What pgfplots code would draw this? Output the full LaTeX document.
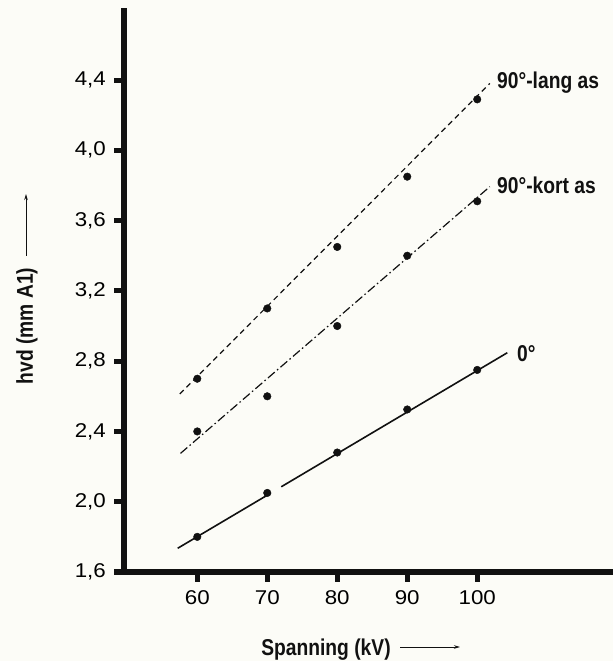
\documentclass[border=0pt]{standalone}
\usepackage{fontspec}
\setmainfont{Liberation Sans}
\newfontfamily\tickfont[FakeStretch=1.12]{Liberation Sans}
\newfontfamily\condfont[FakeStretch=0.84]{Liberation Sans}
\usepackage{pgfplots}
\pgfplotsset{compat=1.18}
\usetikzlibrary{arrows.meta}
\definecolor{paper}{HTML}{FCFCF7}
\definecolor{ink}{HTML}{111111}

\begin{document}
\begin{tikzpicture}
\fill[paper] (-124bp,-89bp) rectangle (489bp,572bp);
\begin{axis}[
    at={(0,0)}, anchor=south west,
    scale only axis,
    width=489bp, height=564bp,
    xmin=49.53, xmax=119.4,
    ymin=1.6, ymax=4.81,
    axis x line*=bottom, axis y line*=left,
    axis line style={-, line width=1bp, draw=ink},
    xtick={60,70,80,90,100},
    ytick={1.6,2.0,2.4,2.8,3.2,3.6,4.0,4.4},
    tick align=outside, major tick length=8bp,
    /pgf/number format/assume math mode=true,
    x tick label style={font=\tickfont\fontsize{20}{20}\selectfont, inner sep=0pt, yshift=-10bp},
    y tick label style={font=\tickfont\fontsize{20}{20}\selectfont, inner sep=0pt, xshift=-10bp},
    yticklabel style={/pgf/number format/.cd, fixed, fixed zerofill, precision=1, use comma},
    clip=false,
]
% anchor points for the heavy frame and tick stubs
\coordinate (tl) at (rel axis cs:0,1);
\coordinate (o)  at (rel axis cs:0,0);
\coordinate (br) at (rel axis cs:1,0);
\coordinate (xt60) at (axis cs:60,1.6);
\coordinate (xt70) at (axis cs:70,1.6);
\coordinate (xt80) at (axis cs:80,1.6);
\coordinate (xt90) at (axis cs:90,1.6);
\coordinate (xt100) at (axis cs:100,1.6);
\coordinate (yt16) at (axis cs:49.53,1.6);
\coordinate (yt20) at (axis cs:49.53,2.0);
\coordinate (yt24) at (axis cs:49.53,2.4);
\coordinate (yt28) at (axis cs:49.53,2.8);
\coordinate (yt32) at (axis cs:49.53,3.2);
\coordinate (yt36) at (axis cs:49.53,3.6);
\coordinate (yt40) at (axis cs:49.53,4.0);
\coordinate (yt44) at (axis cs:49.53,4.4);
% fitted lines
\addplot[ink, line width=1.2bp, dash pattern=on 5.5bp off 4bp] coordinates {(57.5,2.613) (101.8,4.381)};
\addplot[ink, line width=1.2bp, dash pattern=on 9bp off 3bp on 1.5bp off 3bp] coordinates {(57.6,2.275) (101.8,3.793)};
\addplot[ink, line width=1.6bp] coordinates {(57.2,1.735) (70.5,2.049)};
\addplot[ink, line width=1.6bp] coordinates {(72.0,2.085) (104.3,2.848)};
% measured points
\addplot[only marks, mark=*, mark size=3.8bp, ink] coordinates {(60,2.70) (70,3.10) (80,3.45) (90,3.85) (100,4.29)};
\addplot[only marks, mark=*, mark size=3.8bp, ink] coordinates {(60,2.40) (70,2.60) (80,3.00) (90,3.40) (100,3.71)};
\addplot[only marks, mark=*, mark size=3.8bp, ink] coordinates {(60,1.80) (70,2.05) (80,2.28) (90,2.525) (100,2.75)};
\end{axis}

% heavy frame and tick stubs as filled bars
\fill[ink] ([xshift=-2.5bp,yshift=-2.5bp]o) rectangle ([xshift=2.5bp]tl);
\fill[ink] ([xshift=-2.5bp,yshift=-2.5bp]o) rectangle ([yshift=2.5bp]br);
\foreach \t in {60,70,80,90,100} {\fill[ink] ([xshift=-2.5bp]xt\t) rectangle ([xshift=2.5bp,yshift=-10bp]xt\t);}
\foreach \t in {16,20,24,28,32,36,40,44} {\fill[ink] ([yshift=-2.5bp]yt\t) rectangle ([xshift=-10bp,yshift=2.5bp]yt\t);}

\tikzset{lbl/.style={font=\condfont\bfseries\fontsize{23}{23}\selectfont, inner sep=0pt, text=ink}}
\node[lbl, anchor=base west] at (373bp,483.7bp) {90°-lang as};
\node[lbl, anchor=base west] at (373bp,378bp) {90°-kort as};
\node[lbl, anchor=base west] at (393bp,210bp) {0°};

\node[lbl, rotate=90, anchor=base] at (-91bp,246bp) {hvd (mm A1)};
\draw[ink, line width=0.9bp, -{Stealth[length=6bp,width=3.5bp]}] (-98bp,316bp) -- (-98bp,378bp);
\node[lbl, anchor=base] at (202bp,-83bp) {Spanning (kV)};
\draw[ink, line width=0.9bp, -{Stealth[length=6bp,width=3.5bp]}] (276bp,-75bp) -- (336bp,-75bp);

\pgfresetboundingbox
\path[use as bounding box] (-124bp,-89bp) rectangle (489bp,572bp);
\end{tikzpicture}
\end{document}
